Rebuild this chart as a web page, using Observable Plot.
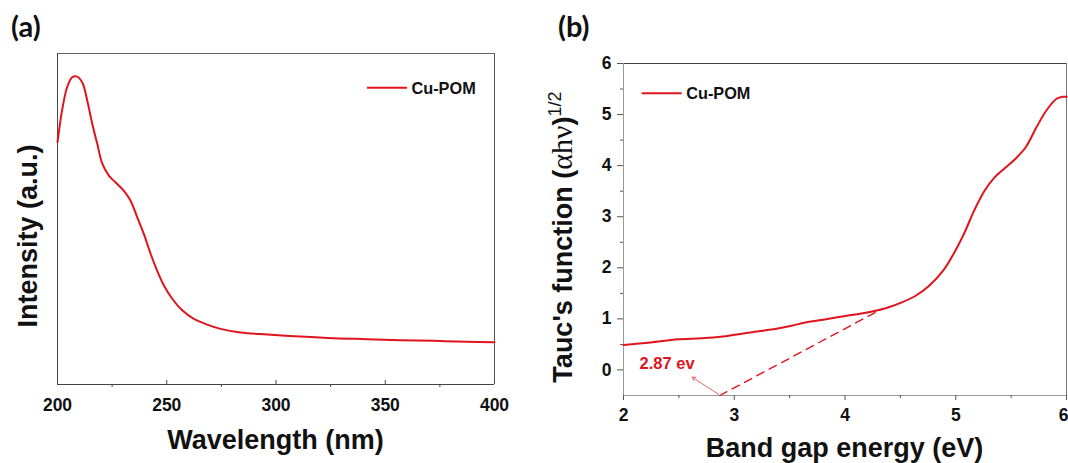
<!DOCTYPE html>
<html>
<head>
<meta charset="utf-8">
<script src="https://cdn.jsdelivr.net/npm/d3@7"></script>
<script src="https://cdn.jsdelivr.net/npm/@observablehq/plot@0.6"></script>
<style>
  html, body { margin: 0; padding: 0; background: #fff; }
  #wrap { position: relative; width: 1068px; height: 463px; overflow: hidden; background: #fff; }
  #wrap svg { position: absolute; top: 0; overflow: visible; }
</style>
</head>
<body>
<div id="wrap"></div>
<script>
// ---------- Panel (a): UV-Vis spectrum ----------
const wavelength = [200, 202.1, 204.4, 206.7, 208.7, 211.3, 213.6, 215.9, 218.2, 220.5, 223.5, 226.5, 230.3, 233.4, 236.5, 239.5, 242.6, 245.6, 248.7, 252.5, 257.1, 262.4, 268.5, 274.6, 283.8, 296, 311.2, 326.5, 341.7, 357, 372.2, 387.5, 400];
const intensity = [0.732, 0.828, 0.898, 0.928, 0.931, 0.913, 0.858, 0.788, 0.727, 0.667, 0.631, 0.611, 0.586, 0.556, 0.505, 0.455, 0.395, 0.344, 0.299, 0.259, 0.224, 0.198, 0.181, 0.168, 0.157, 0.151, 0.145, 0.140, 0.137, 0.134, 0.132, 0.129, 0.128];
const xDomainA = [200, 400];
const yDomainA = [0, 1];
const xTicksA = [200, 250, 300, 350, 400];
const xMinorA = [225, 275, 325, 375];

// ---------- Panel (b): Tauc plot ----------
const energy = [2.0, 2.243, 2.49, 2.71, 2.896, 3.145, 3.393, 3.518, 3.642, 3.829, 4.016, 4.20, 4.389, 4.513, 4.638, 4.76, 4.886, 4.98, 5.073, 5.166, 5.26, 5.353, 5.447, 5.54, 5.633, 5.726, 5.82, 5.913, 5.96, 6.0];
const tauc = [0.49, 0.537, 0.60, 0.62, 0.654, 0.733, 0.81, 0.864, 0.929, 0.995, 1.06, 1.126, 1.224, 1.322, 1.453, 1.65, 1.944, 2.27, 2.66, 3.12, 3.51, 3.776, 3.96, 4.136, 4.365, 4.74, 5.085, 5.314, 5.347, 5.347];
const xDomainB = [2, 6];
const yDomainB = [-0.5, 6];
const xTicksB = [2, 3, 4, 5, 6];
const xMinorB = [2.5, 3.5, 4.5, 5.5];
const yTicksB = [0, 1, 2, 3, 4, 5, 6];
const yMinorB = [0.5, 1.5, 2.5, 3.5, 4.5, 5.5];
const tangentX = [2.87, 4.33];
const tangentY = [-0.5, 1.19];
const arrowX = [2.86, 2.62];
const arrowY = [-0.48, -0.141];
const gapLabel = ["2.87 ev"];
const gapLabelX = [2.145];
const gapLabelY = [0.13];

const seriesName = "Cu-POM";
const red = "#e0141c";
const font = "'Liberation Sans', Arial, sans-serif";

const curveA = wavelength.map((w, i) => ({x: w, y: intensity[i]}));
const curveB = energy.map((e, i) => ({x: e, y: tauc[i]}));
const tangent = tangentX.map((x, i) => ({x, y: tangentY[i]}));
const arrowData = [{x1: arrowX[0], y1: arrowY[0], x2: arrowX[1], y2: arrowY[1]}];
const labelData = gapLabel.map((t, i) => ({t, x: gapLabelX[i], y: gapLabelY[i]}));

const wrap = document.getElementById("wrap");

// Panel (a)
const plotA = Plot.plot({
  width: 530, height: 463,
  marginLeft: 57, marginRight: 36, marginTop: 53, marginBottom: 79,
  style: {fontFamily: font, background: "transparent", color: "#000", overflow: "visible"},
  x: {domain: xDomainA, label: null},
  y: {domain: yDomainA, label: null, axis: null},
  marks: [
    Plot.ruleY([yDomainA[1]], {stroke: "#666", strokeWidth: 1}),
    Plot.ruleX([xDomainA[1]], {stroke: "#555", strokeWidth: 1}),
    Plot.ruleX([xDomainA[0]], {stroke: "#444", strokeWidth: 1}),
    Plot.ruleY([yDomainA[0]], {stroke: "#444", strokeWidth: 1}),
    Plot.axisX({ticks: xTicksA, tickSize: -4, tickFormat: () => "", stroke: "#444"}),
    Plot.axisX({ticks: xMinorA, tickSize: 3, tickFormat: () => "", stroke: "#444"}),
    Plot.axisX({ticks: xTicksA, tickSize: 0, tickPadding: 14, fontSize: 17.5, fontWeight: "bold", fill: "#111", tickFormat: d => String(d)}),
    Plot.line(curveA, {x: "x", y: "y", stroke: red, strokeWidth: 2, curve: "catmull-rom"})
  ]
});
plotA.style.left = "0px";
wrap.appendChild(plotA);

// Panel (b)
const plotB = Plot.plot({
  width: 538, height: 463,
  marginLeft: 93, marginRight: 2, marginTop: 63, marginBottom: 68,
  style: {fontFamily: font, background: "transparent", color: "#000", overflow: "visible"},
  x: {domain: xDomainB, label: null},
  y: {domain: yDomainB, label: null},
  marks: [
    Plot.ruleY([yDomainB[1]], {stroke: "#444", strokeWidth: 1}),
    Plot.ruleX([xDomainB[1]], {stroke: "#777", strokeWidth: 1}),
    Plot.ruleX([xDomainB[0]], {stroke: "#999", strokeWidth: 1}),
    Plot.ruleY([yDomainB[0]], {stroke: "#999", strokeWidth: 1}),
    Plot.axisX({ticks: xTicksB, tickSize: 5, tickFormat: () => "", stroke: "#555"}),
    Plot.axisX({ticks: xMinorB, tickSize: 3, tickFormat: () => "", stroke: "#555"}),
    Plot.axisX({ticks: xTicksB.slice(0, -1), tickSize: 0, tickPadding: 13, fontSize: 17.5, fontWeight: "bold", fill: "#111", tickFormat: d => String(d)}),
    Plot.axisX({ticks: xTicksB.slice(-1), tickSize: 0, tickPadding: 13, fontSize: 17.5, fontWeight: "bold", fill: "#111", textAnchor: "end", dx: 2, tickFormat: d => String(d)}),
    Plot.axisY({ticks: yTicksB, tickSize: 6, tickFormat: () => "", stroke: "#555"}),
    Plot.axisY({ticks: yMinorB, tickSize: 3, tickFormat: () => "", stroke: "#555"}),
    Plot.axisY({ticks: yTicksB, tickSize: 0, tickPadding: 12, fontSize: 17.5, fontWeight: "bold", fill: "#111", tickFormat: d => String(d)}),
    Plot.line(tangent, {x: "x", y: "y", stroke: red, strokeWidth: 1.4, strokeDasharray: "8,6"}),
    Plot.arrow(arrowData, {x1: "x1", y1: "y1", x2: "x2", y2: "y2", stroke: "#e04040", strokeWidth: 0.8, headLength: 7}),
    Plot.text(labelData, {x: "x", y: "y", text: "t", textAnchor: "start", fill: red, fontSize: 16.5, fontWeight: "bold"}),
    Plot.line(curveB, {x: "x", y: "y", stroke: red, strokeWidth: 2, curve: "catmull-rom"})
  ]
});
plotB.style.left = "530px";
wrap.appendChild(plotB);

// Panel labels, axis titles and legends (real SVG text)
function addText(svg, x, y, str, opts = {}) {
  const t = d3.select(svg).append("text")
    .attr("x", x).attr("y", y)
    .attr("font-family", opts.family || font)
    .attr("font-size", opts.size || 27)
    .attr("font-weight", opts.weight || "bold")
    .attr("text-anchor", opts.anchor || "start")
    .attr("fill", opts.fill || "#111")
    .text(str);
  if (opts.transform) t.attr("transform", opts.transform);
  return t;
}
function addLegend(svg, x0, x1, y) {
  d3.select(svg).append("line")
    .attr("x1", x0).attr("x2", x1).attr("y1", y).attr("y2", y)
    .attr("stroke", red).attr("stroke-width", 2);
  addText(svg, x1 + 4.5, y + 5.8, seriesName, {size: 16.3});
}

// (a)
addText(plotA, 11, 36.5, "(a)", {family: "Lato, 'Open Sans', sans-serif", size: 29, weight: "bold"});
addText(plotA, 275.5, 448.5, "Wavelength (nm)", {anchor: "middle", size: 27});
addText(plotA, 0, 0, "Intensity (a.u.)", {anchor: "middle", size: 27, transform: "translate(36.5,236) rotate(-90)"});
addLegend(plotA, 367, 407, 87.7);

// (b)
addText(plotB, 28, 36.5, "(b)", {family: "Lato, 'Open Sans', sans-serif", size: 29, weight: "bold"});
addText(plotB, 314.5, 456.5, "Band gap energy (eV)", {anchor: "middle", size: 27});
const yl = d3.select(plotB).append("text")
  .attr("transform", "translate(42,237) rotate(-90)")
  .attr("text-anchor", "middle")
  .attr("font-family", font)
  .attr("font-size", 27)
  .attr("font-weight", "bold")
  .attr("fill", "#111");
yl.append("tspan").text("Tauc's function (");
yl.append("tspan").attr("font-family", "'Liberation Serif', 'DejaVu Serif', serif").attr("font-weight", "normal").attr("font-size", 30).text("αhν");
yl.append("tspan").text(")");
yl.append("tspan").attr("font-size", 18).attr("font-weight", "normal").attr("dy", -11).text("1/2");
addLegend(plotB, 111.7, 151.7, 93.3);
</script>
</body>
</html>
